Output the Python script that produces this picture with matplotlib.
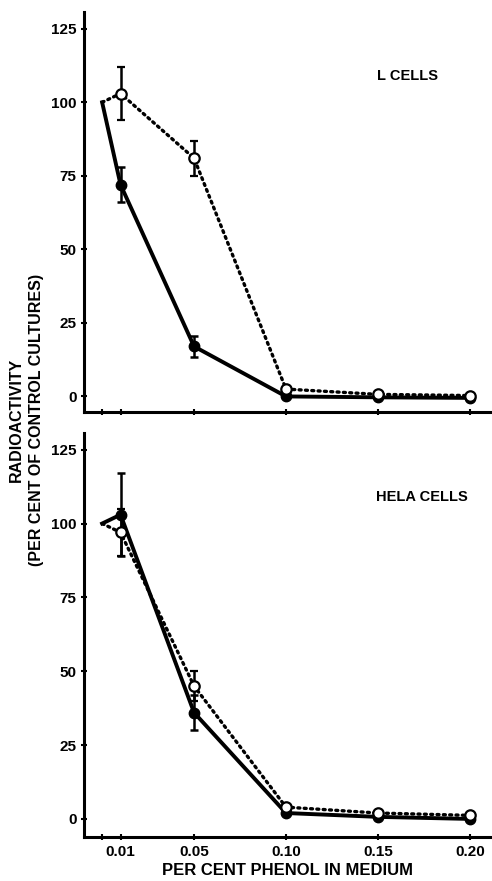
import matplotlib.pyplot as plt

plt.rcParams['font.family'] = ['Liberation Sans', 'DejaVu Sans']
plt.rcParams['font.weight'] = 'bold'

# phenol concentration (per cent)
conc = [0.0, 0.01, 0.05, 0.10, 0.15, 0.20]

# L cells
l_solid = [100, 72, 17, 0, -0.3, -0.5]
l_solid_err = [0, 6, 3.5, 0, 0, 0]
l_open = [100, 103, 81, 2.5, 0.7, 0.3]
l_open_err = [0, 9, 6, 0, 0, 0]

# HeLa cells
h_solid = [100, 103, 36, 2, 0.7, 0]
h_solid_err = [0, 14, 6, 0, 0, 0]
h_open = [100, 97, 45, 4, 2, 1.2]
h_open_err = [0, 8, 5, 0, 0, 0]

panel_titles = ['L CELLS', 'HELA CELLS']
yticks = [0, 25, 50, 75, 100, 125]
xticks = [0.0, 0.01, 0.05, 0.10, 0.15, 0.20]
xticklabels = ['', '0.01', '0.05', '0.10', '0.15', '0.20']

fig = plt.figure(figsize=(4.92, 8.81), dpi=100)
ax1 = fig.add_axes([0.171, 0.532, 0.825, 0.454])
ax2 = fig.add_axes([0.171, 0.050, 0.825, 0.459])


def draw_panel(ax, solid, solid_err, opn, opn_err, title, ylim, tx):
    ax.plot(conc, opn, color='black', lw=2.4, linestyle=(0, (0.6, 1.3)),
            dash_capstyle='round', zorder=2)
    ax.plot(conc, solid, color='black', lw=2.8, zorder=3)
    # error bars
    ax.errorbar(conc[1:], solid[1:], yerr=solid_err[1:], fmt='o', color='black',
                ms=7.5, elinewidth=1.8, capsize=3, capthick=1.8, zorder=4)
    ax.errorbar(conc[1:], opn[1:], yerr=opn_err[1:], fmt='o', color='black',
                mfc='white', mec='black', mew=1.6, ms=7.5, elinewidth=1.8,
                capsize=3, capthick=1.8, zorder=5)
    ax.set_xlim(-0.0098, 0.211)
    ax.set_ylim(*ylim)
    ax.set_yticks(yticks)
    ax.set_xticks(xticks)
    for s in ['top', 'right']:
        ax.spines[s].set_visible(False)
    for s in ['left', 'bottom']:
        ax.spines[s].set_linewidth(2.2)
    ax.tick_params(direction='inout', length=5, width=1.5, labelsize=11, pad=3)
    ax.text(tx, 109, title, ha='center', va='center', fontsize=10.5,
            fontweight='bold')


draw_panel(ax1, l_solid, l_solid_err, l_open, l_open_err, panel_titles[0],
           (-5.4, 130.6), 0.166)
ax1.set_xticklabels([])
draw_panel(ax2, h_solid, h_solid_err, h_open, h_open_err, panel_titles[1],
           (-6.1, 130.8), 0.174)
ax2.set_xticklabels(xticklabels)
ax2.set_xlabel('PER CENT PHENOL IN MEDIUM', fontsize=12, fontweight='bold',
               labelpad=3)

fig.text(0.054, 0.523, 'RADIOACTIVITY\n(PER CENT OF CONTROL CULTURES)',
         rotation=90, ha='center', va='center', fontsize=11.5, fontweight='bold',
         linespacing=1.4)

fig.savefig('out.png', dpi=100)
